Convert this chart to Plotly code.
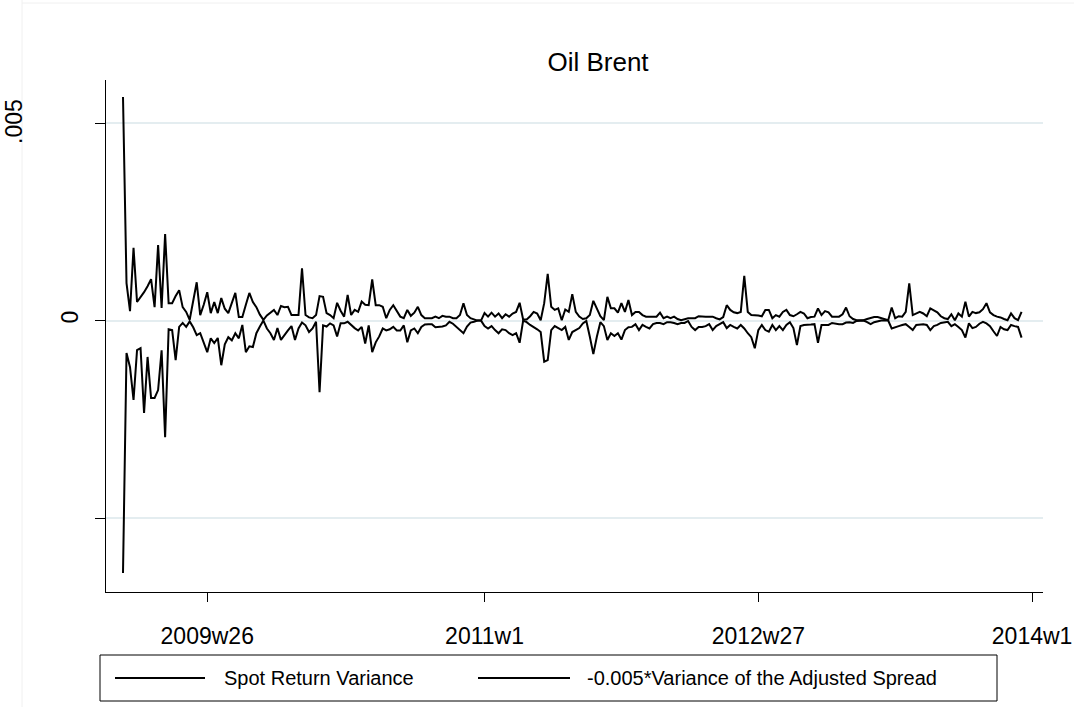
import plotly.graph_objects as go

# ---------------- data ----------------
first_week_label = "2009w2"

# Spot return variance, in units of 1e-3
spot_return_variance_e3 = [
    5.66, 0.95, 0.24, 1.84, 0.47, 0.59, 0.72, 0.87, 1.05, 0.34,
    1.91, 0.32, 2.19, 0.44, 0.44, 0.62, 0.77, 0.34, 0.22, 0.02,
    0.45, 0.97, 0.14, 0.40, 0.72, 0.19, 0.47, 0.19, 0.57, 0.30,
    0.19, 0.45, 0.70, 0.09, 0.09, 0.40, 0.70, 0.47, 0.34, 0.15,
    0.02, 0.13, 0.19, 0.27, 0.14, 0.37, 0.34, 0.35, 0.14, 0.14,
    0.14, 1.32, 0.14, 0.08, 0.06, 0.14, 0.62, 0.60, 0.19, 0.14,
    0.06, 0.45, 0.25, 0.10, 0.65, 0.14, 0.27, 0.22, 0.48, 0.40,
    0.39, 1.04, 0.39, 0.39, 0.35, 0.06, 0.27, 0.39, 0.25, 0.10,
    0.06, 0.27, 0.12, 0.20, 0.35, 0.14, 0.06, 0.06, 0.06, 0.10,
    0.06, 0.12, 0.10, 0.10, 0.06, 0.06, 0.14, 0.44, 0.14, 0.06,
    0.02, 0.00, 0.00, 0.19, 0.10, 0.20, 0.10, 0.18, 0.06, 0.16,
    0.10, 0.18, 0.22, 0.45, 0.03, 0.03, 0.11, 0.22, 0.18, 0.01,
    0.44, 1.18, 0.35, 0.27, 0.31, 0.01, 0.28, 0.22, 0.67, 0.22,
    0.10, 0.04, 0.06, 0.14, 0.50, 0.32, 0.11, 0.01, 0.60, 0.31,
    0.31, 0.20, 0.44, 0.22, 0.52, 0.14, 0.22, 0.22, 0.14, 0.10,
    0.10, 0.10, 0.10, 0.20, 0.06, 0.10, 0.06, 0.10, 0.04, 0.01,
    0.03, 0.06, 0.06, 0.06, 0.11, 0.10, 0.10, 0.10, 0.10, 0.06,
    0.03, 0.09, 0.39, 0.27, 0.21, 0.19, 0.22, 1.13, 0.22, 0.14,
    0.14, 0.13, 0.11, 0.27, 0.27, 0.06, 0.14, 0.10, 0.22, 0.27,
    0.14, 0.11, 0.16, 0.22, 0.18, 0.06, 0.09, 0.10, 0.31, 0.14,
    0.24, 0.21, 0.10, 0.10, 0.10, 0.16, 0.33, 0.11, 0.04, 0.01,
    0.01, 0.01, 0.04, 0.06, 0.09, 0.09, 0.06, 0.03, 0.01, 0.33,
    0.06, 0.11, 0.10, 0.22, 0.94, 0.14, 0.19, 0.22, 0.18, 0.11,
    0.31, 0.27, 0.21, 0.11, 0.06, 0.04, 0.16, 0.01, 0.18, 0.10,
    0.48, 0.10, 0.22, 0.19, 0.21, 0.29, 0.44, 0.21, 0.14, 0.10,
    0.08, 0.04, 0.01, 0.18, 0.06, 0.01, 0.22,
]

# -0.005 * variance of the adjusted spread, in units of 1e-3
scaled_spread_variance_e3 = [
    -6.39, -0.82, -1.18, -2.01, -0.75, -0.70, -2.34, -0.92, -1.96, -1.96,
    -1.76, -0.75, -2.95, -0.22, -0.24, -1.00, -0.16, -0.06, -0.16, -0.02,
    -0.17, -0.37, -0.32, -0.55, -0.80, -0.45, -0.57, -0.44, -1.13, -0.60,
    -0.42, -0.50, -0.32, -0.45, -0.11, -0.80, -0.65, -0.67, -0.32, -0.15,
    0.00, -0.20, -0.32, -0.49, -0.19, -0.49, -0.36, -0.25, -0.14, -0.49,
    -0.20, -0.05, -0.12, -0.29, -0.20, -0.03, -1.81, -0.12, -0.15, -0.07,
    -0.12, -0.40, -0.07, -0.07, -0.03, -0.12, -0.19, -0.25, -0.16, -0.58,
    -0.12, -0.80, -0.55, -0.40, -0.20, -0.25, -0.22, -0.16, -0.25, -0.25,
    -0.12, -0.55, -0.25, -0.20, -0.32, -0.16, -0.10, -0.09, -0.09, -0.17,
    -0.16, -0.15, -0.12, -0.03, -0.08, -0.16, -0.25, -0.32, -0.15, -0.05,
    -0.03, 0.00, 0.00, -0.14, -0.20, -0.14, -0.24, -0.32, -0.22, -0.24,
    -0.32, -0.37, -0.32, -0.56, 0.00, -0.04, -0.11, -0.16, -0.22, -0.29,
    -1.04, -1.00, -0.24, -0.14, -0.19, -0.24, -0.16, -0.49, -0.29, -0.24,
    -0.19, -0.07, -0.01, -0.41, -0.85, -0.41, -0.04, -0.14, -0.49, -0.32,
    -0.39, -0.32, -0.48, -0.24, -0.17, -0.16, -0.09, -0.24, -0.11, -0.16,
    -0.20, -0.09, -0.06, -0.06, -0.09, -0.04, -0.04, -0.06, -0.09, -0.06,
    -0.06, -0.01, -0.16, -0.24, -0.16, -0.16, -0.14, -0.09, -0.24, -0.14,
    -0.09, -0.04, -0.19, -0.11, -0.16, -0.20, -0.11, -0.20, -0.32, -0.42,
    -0.70, -0.24, -0.11, -0.24, -0.28, -0.11, -0.24, -0.14, -0.24, -0.11,
    -0.04, -0.19, -0.62, -0.14, -0.11, -0.11, -0.10, -0.09, -0.56, -0.11,
    -0.11, -0.11, -0.06, -0.08, -0.09, -0.09, -0.05, -0.04, -0.06, -0.01,
    0.00, 0.00, -0.04, -0.09, -0.04, -0.01, 0.00, 0.00, 0.00, -0.20,
    -0.16, -0.14, -0.11, -0.09, -0.16, -0.24, -0.11, -0.10, -0.09, -0.11,
    -0.24, -0.14, -0.11, -0.06, -0.04, -0.03, -0.14, -0.09, -0.16, -0.24,
    -0.43, -0.07, -0.19, -0.16, -0.08, -0.03, -0.07, -0.14, -0.27, -0.39,
    -0.16, -0.22, -0.24, -0.11, -0.14, -0.16, -0.43,
]

x_tick_labels = ["2009w26", "2011w1", "2012w27", "2014w1"]
y_tick_values = [-0.005, 0.0, 0.005]
y_tick_labels = ["", "0", ""]
series_names = ["Spot Return Variance", "-0.005*Variance of the Adjusted Spread"]
chart_title = "Oil Brent"


def stata_week(label):
    year, week = label.split("w")
    return (int(year) - 1960) * 52 + int(week) - 1


t0 = stata_week(first_week_label)
weeks = [t0 + i for i in range(len(spot_return_variance_e3))]
spot = [v * 1e-3 for v in spot_return_variance_e3]
spread = [v * 1e-3 for v in scaled_spread_variance_e3]
x_tick_values = [stata_week(s) for s in x_tick_labels]

# ---------------- layout geometry ----------------
W, H = 1074, 707
L, R, T, B = 106, 31, 80, 115
PW, PH = W - L - R, H - T - B


def px(xp):
    return (xp - L) / PW


def py(yp):
    return (T + PH - yp) / PH


FONT = "Liberation Sans, Arial, sans-serif"
TICK_SIZE = 23

fig = go.Figure()
for yvals, name in zip([spot, spread], series_names):
    fig.add_trace(go.Scatter(
        x=weeks, y=yvals, mode="lines", name=name,
        line=dict(color="black", width=2), showlegend=False,
    ))

fig.update_layout(
    width=W, height=H,
    margin=dict(l=L, r=R, t=T, b=B, autoexpand=False),
    paper_bgcolor="white", plot_bgcolor="white",
    font=dict(family=FONT, color="black", size=TICK_SIZE),
    title=dict(text=chart_title, x=598 / W, xref="container", xanchor="center",
               y=1 - 62 / H, yref="container", yanchor="middle",
               font=dict(family=FONT, size=26, color="black")),
    xaxis=dict(
        range=[t0 - 17 / 3.51, t0 + (1043 - 123) / 3.51],
        tickmode="array", tickvals=x_tick_values, ticktext=x_tick_labels,
        ticks="outside", ticklen=9, tickcolor="black", tickwidth=1,
        showline=True, linecolor="black", linewidth=1,
        showgrid=False, zeroline=False, automargin=False,
        tickfont=dict(size=TICK_SIZE), ticklabelstandoff=14,
    ),
    yaxis=dict(
        range=[-6.87e-3, 6.09e-3],
        tickmode="array", tickvals=y_tick_values, ticktext=y_tick_labels,
        tickangle=-90,
        ticks="outside", ticklen=10, tickcolor="black", tickwidth=1,
        showline=True, linecolor="black", linewidth=1,
        showgrid=True, gridcolor="#e4edf0", gridwidth=2, zeroline=False,
        automargin=False,
        tickfont=dict(size=TICK_SIZE), ticklabelstandoff=8,
    ),
)

shapes = []
# faint outer frame lines of the original graph region
shapes.append(dict(type="line", xref="paper", yref="paper",
                   x0=px(22), x1=px(22), y0=py(0), y1=py(H),
                   line=dict(color="#f0f0f0", width=1)))
shapes.append(dict(type="line", xref="paper", yref="paper",
                   x0=px(22), x1=px(W), y0=py(3), y1=py(3),
                   line=dict(color="#f0f0f0", width=1)))
# legend box
shapes.append(dict(type="rect", xref="paper", yref="paper",
                   x0=px(100), x1=px(997), y0=py(655), y1=py(701),
                   line=dict(color="black", width=1), fillcolor="white"))
for x0, x1 in [(115, 205), (478, 570)]:
    shapes.append(dict(type="line", xref="paper", yref="paper",
                       x0=px(x0), x1=px(x1), y0=py(678), y1=py(678),
                       line=dict(color="black", width=2)))
fig.update_layout(shapes=shapes)

LEG_SIZE = 20
annotations = [
    dict(text=series_names[0], x=px(222), y=py(678), xref="paper", yref="paper",
         xanchor="left", yanchor="middle", showarrow=False,
         font=dict(size=LEG_SIZE, family=FONT)),
    dict(text=series_names[1], x=px(585), y=py(678), xref="paper", yref="paper",
         xanchor="left", yanchor="middle", showarrow=False,
         font=dict(size=LEG_SIZE, family=FONT)),
    dict(text=".005", x=px(14), y=py(122), xref="paper", yref="paper",
         xanchor="center", yanchor="middle", showarrow=False, textangle=-90,
         font=dict(size=TICK_SIZE, family=FONT)),
]
fig.update_layout(annotations=annotations)

fig.write_html("out.html")
